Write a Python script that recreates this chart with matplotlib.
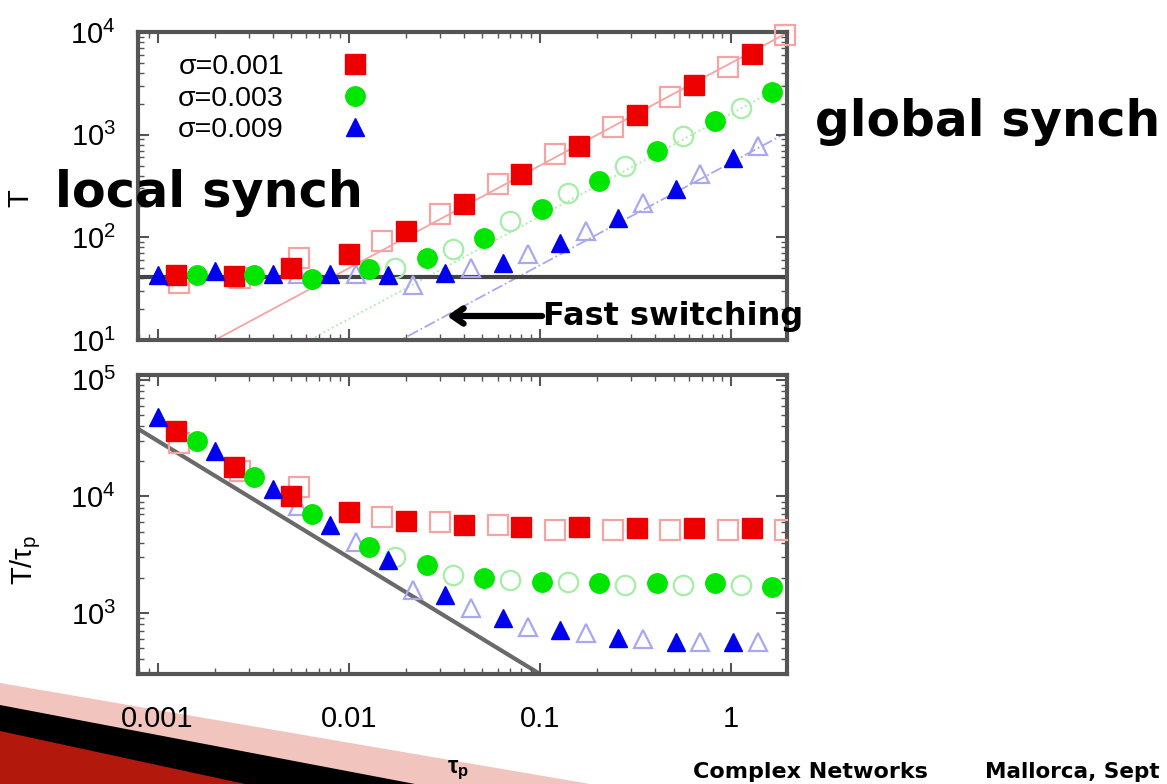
import matplotlib
matplotlib.use("Agg")
import matplotlib.pyplot as plt
from matplotlib.lines import Line2D
from matplotlib.patches import Polygon
import numpy as np

plt.rcParams["font.family"] = ["Liberation Sans", "DejaVu Sans"]

# switching time T versus tau_p, three coupling strengths
# filled: one run set, open: the interleaved second set
tau_red_f = [0.00125, 0.0025, 0.005, 0.01, 0.02, 0.04, 0.08, 0.16, 0.32, 0.64, 1.28]
T_red_f = [42.5, 42, 50, 69, 116, 211, 413, 771, 1570, 3070, 6120]
Tn_red_f = [36300, 17800, 10000, 7400, 6100, 5730, 5520, 5500, 5400, 5400, 5400]

tau_red_o = [0.0013, 0.0027, 0.0055, 0.015, 0.03, 0.06, 0.12, 0.24, 0.48, 0.96, 1.92]
T_red_o = [36, 40, 63, 93, 169, 330, 645, 1200, 2350, 4600, 9300]
Tn_red_o = [29000, 16400, 12000, 6600, 5980, 5700, 5200, 5200, 5200, 5200, 5200]

tau_grn_f = [0.0016, 0.0032, 0.0064, 0.0128, 0.0256, 0.0512, 0.1024, 0.2048, 0.4096, 0.8192, 1.6384]
T_grn_f = [42.5, 42.5, 39.7, 49.7, 63.4, 99, 189, 353, 689, 1345, 2625]
Tn_grn_f = [29800, 14600, 7000, 3700, 2590, 2000, 1850, 1815, 1815, 1815, 1675]

tau_grn_o = [0.0175, 0.035, 0.07, 0.14, 0.28, 0.56, 1.12]
T_grn_o = [50.8, 77.6, 145, 270, 493, 963, 1800]
Tn_grn_o = [3040, 2130, 1920, 1850, 1740, 1740, 1740]

tau_blu_f = [0.001, 0.002, 0.004, 0.008, 0.016, 0.032, 0.064, 0.128, 0.256, 0.512, 1.024]
T_blu_f = [42.5, 47.4, 44.3, 44.3, 42.5, 45.4, 56.8, 88.7, 155, 295, 590]
Tn_blu_f = [48000, 24400, 11500, 5740, 2860, 1430, 905, 713, 608, 562, 562]

tau_blu_o = [0.0054, 0.0109, 0.0217, 0.0435, 0.087, 0.174, 0.345, 0.69, 1.39]
T_blu_o = [44, 44.3, 34, 50.8, 69.5, 116, 216, 413, 771]
Tn_blu_o = [8200, 4090, 1580, 1100, 757, 672, 597, 562, 562]

sigma_labels = ["σ=0.001", "σ=0.003", "σ=0.009"]
slow_coef = [5000, 1600, 535]      # T = c * tau_p at slow switching
T_local = 41                      # plateau for fast switching
fast_coef = 30                    # T/tau_p = c / tau_p

xlim = (7.9e-4, 1.96)

fig = plt.figure(figsize=(11.67, 7.84), dpi=100)
W, H = 1167, 784


def px(x, y):
    return x / W, 1 - y / H


# slide ribbon in the lower left corner
for pts, col in [
    ([(0, 683), (590, 784), (0, 784)], "#f2c4be"),
    ([(0, 705), (415, 784), (0, 784)], "#000000"),
    ([(0, 731), (245, 784), (0, 784)], "#b3180d"),
]:
    fig.add_artist(Polygon([px(*p) for p in pts], closed=True, transform=fig.transFigure,
                           facecolor=col, edgecolor="none", zorder=-5))

ax1 = fig.add_axes([138 / W, 1 - 340 / H, 649 / W, 308 / H])
ax2 = fig.add_axes([138 / W, 1 - 674 / H, 649 / W, 299 / H])
for ax in (ax1, ax2):
    ax.set_facecolor("none")

series = [
    ("#ee0000", "#f5a3a3", "s", 14.5, tau_red_f, T_red_f, Tn_red_f, tau_red_o, T_red_o, Tn_red_o),
    ("#00e600", "#a6eea6", "o", 14, tau_grn_f, T_grn_f, Tn_grn_f, tau_grn_o, T_grn_o, Tn_grn_o),
    ("#0000ee", "#a8a8f2", "^", 13, tau_blu_f, T_blu_f, Tn_blu_f, tau_blu_o, T_blu_o, Tn_blu_o),
]
fit_styles = ["-", ":", "-."]

# top panel: T
tau_line = np.array(xlim)
for (col, light, mk, ms, tf, yf, _, to, yo, _), c, ls in zip(series, slow_coef, fit_styles):
    ax1.plot(tau_line, c * tau_line, ls=ls, color=light, lw=1.3, zorder=1)
    ax1.plot(to, yo, ls="none", marker=mk, ms=ms, mfc="none", mec=light, mew=1.6,
             zorder=3, clip_on=False)
    ax1.plot(tf, yf, ls="none", marker=mk, ms=ms, color=col, mec=col, zorder=4, clip_on=False)
ax1.axhline(T_local, color="#444444", lw=3, zorder=2)

# bottom panel: T / tau_p
ax2.plot(tau_line, fast_coef / tau_line, color="#6a6a6a", lw=3, zorder=1)
for col, light, mk, ms, tf, _, nf, to, _, no in series:
    ax2.plot(to, no, ls="none", marker=mk, ms=ms, mfc="none", mec=light, mew=1.6, zorder=3)
    ax2.plot(tf, nf, ls="none", marker=mk, ms=ms, color=col, mec=col, zorder=4)

ax1.set_ylim(10, 1e4)
ax2.set_ylim(300, 1.1e5)
for ax in (ax1, ax2):
    ax.set_xscale("log")
    ax.set_yscale("log")
    ax.set_xlim(*xlim)
    for s in ax.spines.values():
        s.set_linewidth(3)
        s.set_color("#555555")
    ax.tick_params(which="both", direction="in", top=True, right=True, color="#555555")
    ax.tick_params(which="major", length=8, width=1.5, labelsize=21)
    ax.tick_params(which="minor", length=4, width=1)
    ax.tick_params(axis="y", pad=16)
ax1.tick_params(labelbottom=False)
ax2.tick_params(axis="x", pad=22, labelsize=21)
ax2.set_xticks([0.001, 0.01, 0.1, 1])
ax2.set_xticklabels(["0.001", "0.01", "0.1", "1"])

handles = [Line2D([], [], ls="none", marker=mk, ms=ms, color=col, mec=col)
           for col, _, mk, ms, *_ in series]
ax1.legend(handles, sigma_labels, loc="upper left", bbox_to_anchor=(0.04, 0.975),
           frameon=False, markerfirst=False, fontsize=20.5, handlelength=1.0,
           handletextpad=2.0, labelspacing=0.2, borderpad=0)

fig.text(*px(20, 198), "T", rotation=90, fontsize=21, ha="center", va="center")
fig.text(*px(26, 560), r"T/$\mathregular{\tau_p}$", rotation=90, fontsize=21,
         ha="center", va="center")
fig.text(*px(458, 770), r"$\mathregular{\tau_p}$", fontsize=17, ha="center", va="center",
         weight="bold")

fig.text(*px(55, 193), "local synch", family="DejaVu Sans", weight="bold", fontsize=35.5,
         ha="left", va="center", zorder=10)
fig.text(*px(815, 122), "global synch", family="DejaVu Sans", weight="bold", fontsize=35,
         ha="left", va="center", zorder=10)
fig.text(*px(543, 316), "Fast switching", family="DejaVu Sans", weight="bold", fontsize=23,
         ha="left", va="center", zorder=10)
fig.add_artist(plt.Annotation("", xy=px(447, 316), xytext=px(542, 316),
                              xycoords="figure fraction", textcoords="figure fraction",
                              arrowprops=dict(arrowstyle="->,head_length=0.8,head_width=0.55",
                                              lw=4.5, color="black", shrinkA=0, shrinkB=0)))

fig.text(*px(693, 772), "Complex Networks", family="DejaVu Sans", weight="bold", fontsize=16,
         ha="left", va="center")
fig.text(*px(985, 772), "Mallorca, Sept", family="DejaVu Sans", weight="bold", fontsize=15.5,
         ha="left", va="center")

fig.savefig("out.png", dpi=100)
